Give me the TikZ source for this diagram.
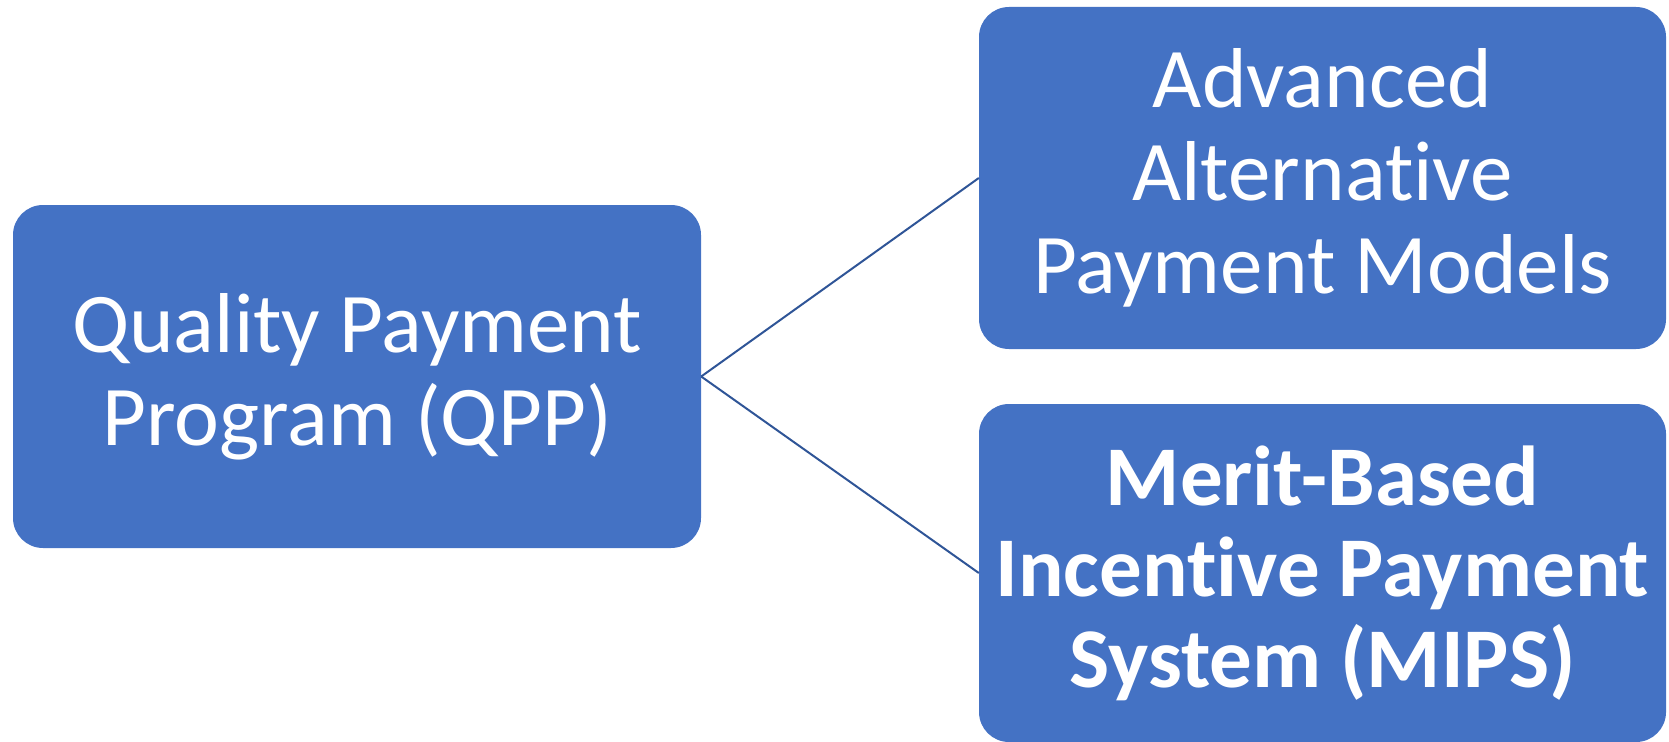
\documentclass[tikz,border=0pt]{standalone}
\usepackage{fontspec}
\setmainfont[Ligatures=NoCommon]{Carlito}
\definecolor{boxblue}{HTML}{4472C4}
\definecolor{linkblue}{HTML}{2F5597}
\begin{document}
\begin{tikzpicture}[x=1pt,y=-1pt]
\tikzset{
  box/.style={fill=boxblue, draw=none, rounded corners=30pt, text=white, align=center, inner sep=0pt},
  conn/.style={draw=linkblue, line width=2pt}
}
\useasboundingbox (0,0) rectangle (1669,741);
\begin{scope}
\clip (0,0) rectangle (1669,741);
\node[box, minimum width=688pt, minimum height=343pt, font=\fontsize{85}{93}\selectfont] (qpp) at (357,376.5) {Quality Payment\\Program (QPP)};
\node[box, minimum width=687pt, minimum height=342pt, font=\fontsize{85}{93}\selectfont] (apm) at (1322.5,178) {Advanced\\Alternative\\Payment Models};
\node[box, minimum width=687pt, minimum height=338pt, font=\fontsize{85}{91}\selectfont\bfseries] (mips) at (1322.5,573) {Merit-Based\\Incentive Payment\\System (MIPS)};
\end{scope}
\draw[conn] (qpp.east) -- (apm.west);
\draw[conn] (qpp.east) -- (mips.west);
\end{tikzpicture}
\end{document}
